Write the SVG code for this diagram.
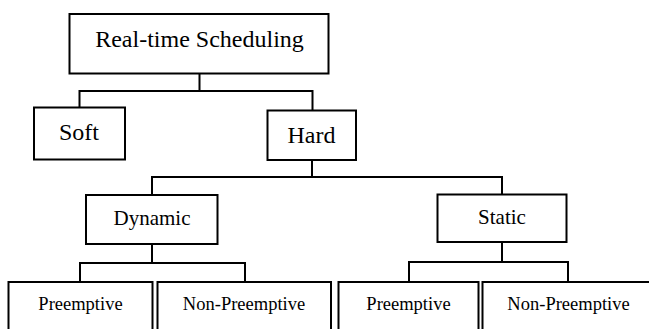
<svg xmlns="http://www.w3.org/2000/svg" width="649" height="329" viewBox="0 0 649 329">
<style>
.box{fill:#fff;stroke:#000;stroke-width:2}
.ln{fill:none;stroke:#000;stroke-width:2}
text{font-family:"Liberation Serif","Times New Roman",serif;fill:#000;text-anchor:middle}
.t1{font-size:24px}
.t2{font-size:21px}
.t3{font-size:18.5px}
</style>
<rect width="649" height="329" fill="#fff"/>
<g id="connectors">
<path class="ln" d="M199.5,74V91M79.5,107V91H312.5V110"/>
<path class="ln" d="M312,160V177M152,195V177H502V194"/>
<path class="ln" d="M152,244V263M80,282V263H245V282"/>
<path class="ln" d="M502,242V262M409,282V262H568V282"/>
</g>
<g id="n-root"><rect class="box" x="69.5" y="14" width="259" height="59.5"/><text class="t1" x="199.5" y="47">Real-time Scheduling</text></g>
<g id="n-soft"><rect class="box" x="34" y="107.5" width="91" height="52"/><text class="t1" x="79" y="139.5">Soft</text></g>
<g id="n-hard"><rect class="box" x="267.5" y="110.5" width="88.5" height="49.5"/><text class="t1" x="311.5" y="142.5">Hard</text></g>
<g id="n-dynamic"><rect class="box" x="86" y="195" width="131.5" height="49"/><text class="t2" x="152" y="225">Dynamic</text></g>
<g id="n-static"><rect class="box" x="437.5" y="194.5" width="129" height="47.5"/><text class="t2" x="502" y="224">Static</text></g>
<g id="n-dyn-pre"><rect class="box" x="8.5" y="282" width="144" height="60"/><text class="t3" x="80.5" y="310">Preemptive</text></g>
<g id="n-dyn-nonpre"><rect class="box" x="157.5" y="282" width="173.5" height="60"/><text class="t3" x="244" y="310">Non-Preemptive</text></g>
<g id="n-sta-pre"><rect class="box" x="338.5" y="282" width="140" height="60"/><text class="t3" x="408.5" y="310">Preemptive</text></g>
<g id="n-sta-nonpre"><rect class="box" x="482.5" y="282" width="180" height="60"/><text class="t3" x="568.5" y="310">Non-Preemptive</text></g>
</svg>
